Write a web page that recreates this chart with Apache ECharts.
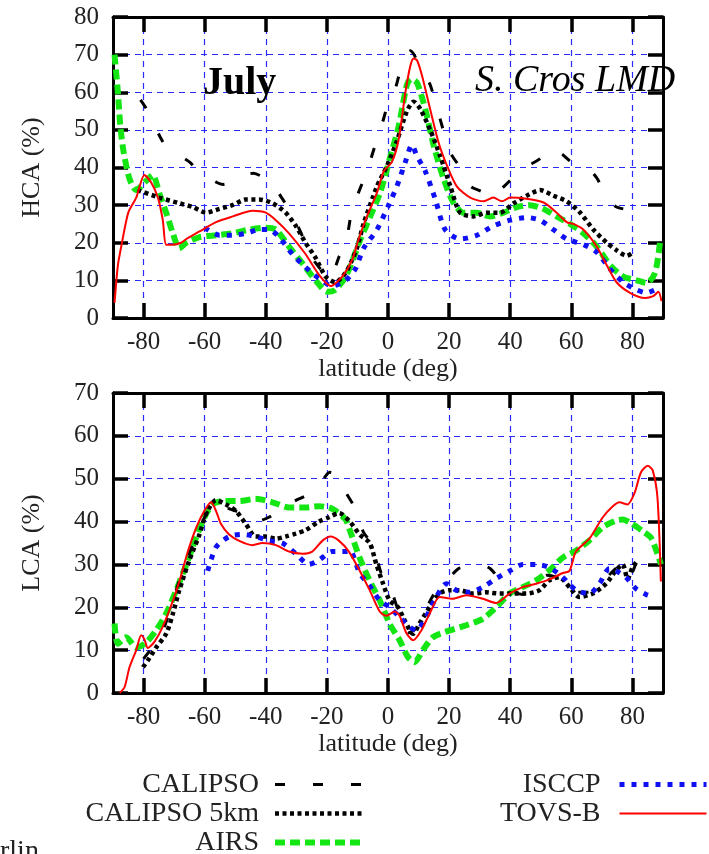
<!DOCTYPE html>
<html>
<head>
<meta charset="utf-8">
<script src="https://cdn.jsdelivr.net/npm/echarts@6/dist/echarts.min.js"></script>
<style>
  html, body { margin: 0; padding: 0; background: #fff; }
  #chart { width: 709px; height: 854px; }
</style>
</head>
<body>
<div id="chart"></div>
<script>
// x ticks (latitude)
const latTicks = [-80, -60, -40, -20, 0, 20, 40, 60, 80];

// ---- HCA (top panel) ----
const hcaCalipsoLat = [-81, -79, -74.5, -72.5, -65, -62, -56, -54, -50, -46.5, -44, -40, -37.8, -35.6, -31, -24.8, -22.6, -19, -16, -14, -12, -11, -7.4, -6.3, -3.6, -2.5, 0.8, 2.4, 5.1, 7.3, 11.5, 13.8, 17, 20.4, 23.6, 27, 31, 33, 36, 40.5, 43, 47, 50, 52, 54, 57, 60, 64, 66, 68.5, 71, 73.2, 74.8, 77];
const hcaCalipso = [58, 55.5, 48, 45.5, 41.5, 39, 36, 35.5, 36.5, 38, 38.5, 37, 36, 33, 27, 16, 13.5, 10.5, 16.3, 19, 28, 30.5, 38, 40.5, 47.5, 50, 59, 61, 69, 71, 65, 62, 53, 44, 40, 35, 33.5, 32, 33.5, 37, 39.5, 41, 42.5, 44.5, 45, 43.5, 41.5, 40.5, 39.5, 37, 33, 30.5, 29.5, 29];

const hcaCal5Lat = [-82, -74.8, -68.3, -63.9, -59.6, -55.2, -50.9, -46.5, -42.2, -37.8, -33.5, -30.2, -27, -23.7, -20.4, -17.2, -13.9, -12, -10, -8, -3.6, -0.3, 2.9, 6.2, 8.4, 10.6, 13.8, 17.1, 20.4, 23.6, 28, 32.4, 36.7, 41.1, 45.4, 49.8, 54.1, 58.5, 62.9, 67.2, 71.6, 74.8, 78.1, 80.3];
const hcaCal5 = [34, 32, 30.5, 29.5, 28, 29, 30, 31.5, 31.5, 30.5, 28, 24.5, 20, 16, 11, 9.5, 12, 15, 19, 25, 35, 40.5, 47, 55, 57.5, 55.5, 50, 43, 35, 28, 27, 28, 28, 30.5, 32.5, 34, 32.5, 31, 28, 23.5, 20, 18, 16.5, 17.5];

const hcaAirsLat = [-89.5, -88.4, -87.6, -86.5, -84.6, -82.4, -79.1, -77, -74.8, -72.6, -70.4, -68.3, -66, -61.7, -56.3, -50.9, -45.4, -40, -36.7, -32.4, -28, -23.7, -19.9, -17.2, -13.9, -11.5, -9, -5.8, -2.5, 0.8, 3.5, 6.2, 7.6, 9.5, 12.2, 14.9, 18.2, 21.5, 24.7, 29.1, 33.4, 37.8, 42.2, 46.5, 50.9, 55.2, 59.6, 64, 68.3, 72.7, 77, 81.4, 84.6, 87.4, 89];
const hcaAirs = [70, 60, 51, 44, 37, 34, 36.5, 38, 33, 28, 22.5, 18.5, 20, 21.5, 22, 22.5, 23.5, 24, 23.5, 19, 14.5, 10, 7, 7.5, 11, 15.5, 21, 27, 33.5, 43, 51, 62, 63.5, 62.5, 55.5, 46, 37, 30.5, 28, 28, 27, 28, 29.5, 30, 29, 27, 25, 22.5, 19, 14, 11, 10, 9.3, 12, 20];

const hcaIsccpLat = [-60, -55.2, -50.9, -46.5, -42.2, -38.9, -35.6, -31.3, -27, -22.6, -18.3, -13.9, -10.7, -8, -3.6, 0.2, 2.9, 5.7, 7.8, 9.5, 12.2, 15.5, 18.7, 23.6, 29.1, 34.5, 40, 45.4, 49.8, 54.1, 58.5, 64, 68.3, 72.7, 77, 81.4, 84.6, 87.4];
const hcaIsccp = [24, 22, 22, 22.5, 23.5, 23.5, 21.5, 17, 13.5, 10.5, 8.5, 10, 13, 18.5, 23.5, 30, 35, 41.5, 46, 43, 39, 31.5, 23.5, 21, 22, 24.5, 26, 26.7, 26, 23.5, 21, 19.5, 17.5, 13, 9.5, 7.5, 6.7, 7.5];

const hcaTovsLat = [-89.5, -88.4, -87.3, -85, -82.4, -79.7, -77.5, -75.3, -73.7, -72.6, -70.4, -67.7, -66, -61.7, -56.3, -50.8, -44.3, -40, -36.7, -32.4, -27, -22.6, -18.8, -15, -11.7, -9.6, -6.9, -3.6, -1.4, 1.3, 3.5, 5.7, 7.3, 8.4, 9.5, 11.1, 13.8, 16.6, 19.3, 22.5, 26.9, 31.3, 34.5, 37.3, 40, 44.3, 50.9, 55.2, 58.5, 60.7, 63.9, 68.3, 71.6, 74.8, 79.2, 84.1, 86.8, 88.5, 89.5];
const hcaTovs = [4, 14, 19, 28, 32, 38, 36, 32, 26, 19.5, 19.5, 20, 21, 23, 25.5, 27, 28.5, 28, 26, 22.5, 17, 11.5, 8.5, 11, 15.5, 21, 27, 33.3, 39, 41.5, 47.5, 60, 67, 69, 68.5, 64.5, 55.5, 46.5, 40.5, 35, 32, 31, 32, 31, 32, 31.8, 30.7, 28, 25.5, 25, 23.5, 19, 14, 9.5, 6.7, 5.3, 5.8, 7, 4.5];

// ---- LCA (bottom panel) ----
const lcaCalipsoLat = [-80, -74, -67, -60, -56, -52, -47.6, -43, -39, -35, -30, -27, -23, -19, -17, -14, -11.5, -8, -5, -2, 1, 3, 6.5, 9, 12, 15, 19, 23, 26, 30, 33.5, 37, 40, 44, 48, 52, 55, 58, 62, 66, 69, 73, 76.5, 79, 81];
const lcaCalipso = [8, 14, 29, 41, 45, 43, 42, 40, 41, 43, 45, 46, 48, 51.5, 51, 47, 44, 37.5, 34.5, 27.5, 24, 20, 14, 15, 19, 23, 26, 29, 29.5, 30, 29, 26, 24, 23, 25, 27.5, 27, 25, 23.5, 23.5, 24.5, 28, 30, 27, 30];

const lcaCal5Lat = [-80.2, -78.6, -75.9, -72.6, -70.4, -68.3, -65, -61.7, -59.6, -56.3, -53, -49.8, -46.5, -43.3, -40, -36.7, -33.5, -30.2, -27, -22.6, -19.3, -16, -12.5, -9.3, -6, -3.8, -1.6, 0.5, 3.3, 5.4, 8.2, 10.3, 13.6, 16.9, 20.2, 23.4, 27.8, 32.1, 36.5, 40.8, 45.2, 49.6, 52.8, 56.1, 59.4, 62.6, 67, 71.4, 74.6, 76.8, 78.4, 80, 81.2];
const lcaCal5 = [6, 7.6, 10.6, 13.8, 18.5, 24, 31, 37, 41.7, 45, 44, 42.5, 39.4, 36.5, 36.5, 36, 36.5, 37.2, 38, 40, 41, 42, 40, 37, 35, 30, 25.5, 21.6, 20, 17, 13.8, 16.2, 20, 23.2, 24, 24, 23.2, 23.5, 23.2, 23.2, 23.2, 24, 26.3, 27, 24.7, 22.4, 23.2, 25.5, 28.6, 30, 26.6, 29.3, 30.5];

const lcaAirsLat = [-89.5, -88.4, -85.7, -82.4, -79.1, -75.9, -72.6, -69.3, -66, -62.8, -60.1, -57.4, -54.1, -48.7, -43.3, -37.8, -32.4, -27, -22.6, -18.3, -13.9, -12.5, -9.3, -6, -2.7, 0.5, 3.8, 6.5, 8.7, 11.4, 14.7, 20.2, 25.6, 31, 35.4, 39.8, 44.1, 48.5, 52.8, 57.2, 61.5, 65.9, 70.3, 74.6, 76.8, 80, 83.3, 86, 88.2, 89.3];
const lcaAirs = [16.2, 11.5, 13, 10.6, 11.8, 14.6, 18.5, 24, 30, 36.3, 41, 44, 44.8, 44.8, 45.3, 44.5, 43.3, 43.3, 43.6, 43, 40.5, 38, 31.6, 26.2, 21.6, 16.2, 12.3, 8.4, 7.2, 10, 13, 14.6, 15.8, 17.3, 20, 23.2, 24.7, 26.3, 28.6, 31.6, 33.2, 35.6, 38.7, 40.2, 40.5, 39.4, 37.8, 36.3, 32.5, 30];

const lcaIsccpLat = [-59, -56.3, -52, -47.6, -43.3, -38.9, -34.6, -30.2, -25.9, -22.6, -18.3, -13.9, -12.5, -9.3, -6, -2.7, 0.5, 3.8, 7.1, 9.3, 12.5, 15.8, 19.1, 22.3, 26.7, 31, 35.4, 39.8, 44.1, 48.5, 52.8, 57.2, 61.5, 65.9, 69.2, 72.4, 74.6, 77.9, 81.2, 84.4, 87.1];
const lcaIsccp = [28.5, 34, 36.5, 37, 36.5, 35.5, 35, 32.5, 30, 31, 33, 33, 33.3, 28, 25, 21.6, 20, 17.7, 15.4, 14.6, 17.7, 22.4, 25.5, 24, 23.5, 24.7, 26.7, 28.5, 30, 30, 29.3, 27, 24, 23.2, 25.5, 29, 28.5, 27, 24.3, 23, 22.4];

const lcaTovsLat = [-87.8, -86.2, -84.6, -82.4, -80.8, -79.7, -78.6, -76.4, -73.7, -70.4, -68.3, -65.5, -62.8, -60.1, -57.9, -56.3, -54.7, -52, -48.7, -44.3, -41.1, -36.7, -32.4, -28, -24.8, -21.5, -18.8, -16, -12.8, -9.3, -6, -2.7, -0.5, 2.2, 3.8, 6, 8.2, 10.9, 13.6, 16.9, 21.2, 25.6, 31, 35.4, 39.8, 44.1, 48.5, 52.8, 57.2, 59.4, 61.5, 65.9, 70.3, 73.5, 75.7, 78.4, 80.6, 82.8, 85, 86.6, 88.2, 89.3];
const lcaTovs = [0, 1.4, 6, 10, 13.5, 12.5, 10.5, 12, 15.5, 21.5, 26, 33, 38.5, 42.5, 44.5, 42.5, 39.5, 37, 35.5, 34.5, 35, 34.5, 33, 32.5, 33, 35.5, 36.5, 35.5, 33, 28.6, 24, 19, 18, 19, 18, 14, 12.3, 14.6, 18.5, 22.4, 22, 22.8, 22, 21, 23.2, 24.7, 25.5, 26.5, 28, 28.5, 33, 36, 41, 43.5, 44.5, 44, 46.5, 51.5, 53, 52, 45.5, 26];

const FONT = 'Liberation Serif';
const TXT = '#222';
const GRIDLINE = { show: true, lineStyle: { color: '#2a2aff', width: 1.2, type: [6, 5] } };
const FRAME = { show: true, onZero: false, lineStyle: { color: '#000', width: 3 } };
const TICK = { show: true, inside: true, length: 15, lineStyle: { color: '#000', width: 3.5 } };

const styles = {
    'CALIPSO': { color: '#000', width: 3, type: [10, 28] },
    'CALIPSO 5km': { color: '#000', width: 4.5, type: [4, 3.5] },
    'AIRS': { color: '#14e614', width: 6, type: [10, 5] },
    'ISCCP': { color: '#1010f5', width: 5, type: [5, 7] },
    'TOVS-B': { color: '#ff0000', width: 2, type: 'solid' },
};

function zip(lat, vals) {
    return lat.map((x, i) => [x, vals[i]]);
}

function line(name, lat, vals, axis) {
    const s = styles[name];
    return {
        name,
        type: 'line',
        xAxisIndex: axis,
        yAxisIndex: axis,
        data: zip(lat, vals),
        symbol: 'none',
        smooth: 0.25,
        lineStyle: { color: s.color, width: s.width, type: s.type },
        itemStyle: { color: s.color },
        animation: false,
    };
}

function xAxes(grid) {
    return [
        {
            gridIndex: grid, type: 'value', min: -90, max: 90, position: 'bottom',
            axisLine: FRAME,
            axisTick: { ...TICK, customValues: latTicks },
            axisLabel: { customValues: latTicks, fontFamily: FONT, fontSize: 25, color: TXT, margin: 12 },
            splitLine: GRIDLINE,
            name: 'latitude (deg)', nameLocation: 'middle', nameGap: 36,
            nameTextStyle: { fontFamily: FONT, fontSize: 26, color: TXT },
        },
        {
            gridIndex: grid, type: 'value', min: -90, max: 90, position: 'top',
            axisLine: FRAME,
            axisTick: { ...TICK, customValues: latTicks },
            axisLabel: { show: false },
            splitLine: { show: false },
        },
    ];
}

function yAxes(grid, max, name) {
    return [
        {
            gridIndex: grid, type: 'value', min: 0, max, interval: 10, position: 'left',
            axisLine: FRAME, axisTick: TICK,
            axisLabel: { fontFamily: FONT, fontSize: 25, color: TXT, margin: 14 },
            splitLine: GRIDLINE,
            name, nameLocation: 'middle', nameGap: 68, nameRotate: 90,
            nameTextStyle: { fontFamily: FONT, fontSize: 26, color: TXT },
        },
        {
            gridIndex: grid, type: 'value', min: 0, max, interval: 10, position: 'right',
            axisLine: FRAME, axisTick: TICK,
            axisLabel: { show: false },
            splitLine: { show: false },
        },
    ];
}

const legendBase = {
    orient: 'vertical',
    align: 'right',
    padding: 0,
    itemGap: 0,
    itemHeight: 14,
    height: 120,
    selectedMode: false,
    itemStyle: { opacity: 0 },
    lineStyle: { width: 'inherit', type: 'inherit' },
    textStyle: { fontFamily: FONT, fontSize: 28, color: TXT, lineHeight: 29 },
};

const chart = echarts.init(document.getElementById('chart'));
chart.setOption({
    backgroundColor: '#fff',
    animation: false,
    grid: [
        { left: 113, top: 17, width: 550, height: 301 },
        { left: 113, top: 393, width: 550, height: 300 },
    ],
    xAxis: [...xAxes(0), ...xAxes(1)],
    yAxis: [...yAxes(0, 80, 'HCA (%)'), ...yAxes(1, 70, 'LCA (%)')],
    legend: [
        { ...legendBase, data: ['CALIPSO', 'CALIPSO 5km', 'AIRS'], itemWidth: 90, right: 341, top: 770,
          textStyle: { ...legendBase.textStyle, padding: [0, 11, 0, 0] } },
        { ...legendBase, data: ['ISCCP', 'TOVS-B'], itemWidth: 87, right: 0, top: 770,
          textStyle: { ...legendBase.textStyle, padding: [0, 14, 0, 0] } },
    ],
    graphic: [
        { type: 'text', left: 203, top: 64, z: 100,
          style: { text: 'July', font: 'bold 40px "Liberation Serif"', fill: '#000' } },
        { type: 'text', left: 475, top: 62, z: 100,
          style: { text: 'S. Cros LMD', font: 'italic 38px "Liberation Serif"', fill: '#000' } },
        { type: 'text', left: 0, top: 838, z: 100,
          style: { text: 'rlin', font: '28px "Liberation Serif"', fill: TXT } },
    ],
    series: [
        line('AIRS', hcaAirsLat, hcaAirs, 0),
        line('CALIPSO 5km', hcaCal5Lat, hcaCal5, 0),
        line('CALIPSO', hcaCalipsoLat, hcaCalipso, 0),
        line('ISCCP', hcaIsccpLat, hcaIsccp, 0),
        line('TOVS-B', hcaTovsLat, hcaTovs, 0),
        line('AIRS', lcaAirsLat, lcaAirs, 2),
        line('CALIPSO 5km', lcaCal5Lat, lcaCal5, 2),
        line('CALIPSO', lcaCalipsoLat, lcaCalipso, 2),
        line('ISCCP', lcaIsccpLat, lcaIsccp, 2),
        line('TOVS-B', lcaTovsLat, lcaTovs, 2),
    ],
});
</script>
</body>
</html>
